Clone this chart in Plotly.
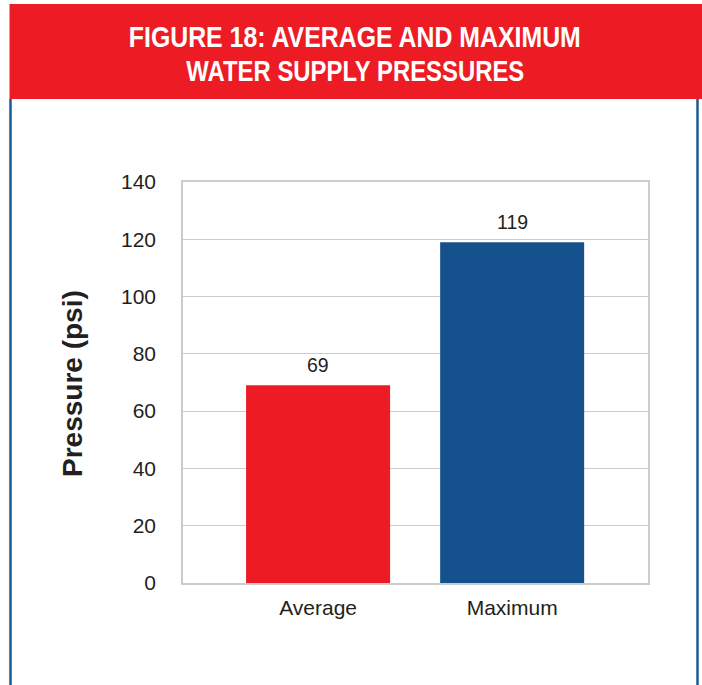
import plotly.graph_objects as go

categories = ["Average", "Maximum"]
values = [69, 119]
bar_colors = ["#ed1c24", "#15518c"]
y_ticks = [0, 20, 40, 60, 80, 100, 120, 140]
title_lines = ["FIGURE 18: AVERAGE AND MAXIMUM", "WATER SUPPLY PRESSURES"]
y_title = "Pressure (psi)"

W, H = 702, 685
L, R, T, B = 183, 54, 182, 102
pw, ph = W - L - R, H - T - B

def px(x):
    return (x - L) / pw

def py(y):
    return (H - B - y) / ph

FONT = "Liberation Sans, Arial, Helvetica, sans-serif"
TXT = "#231f20"

fig = go.Figure()
fig.add_trace(go.Bar(
    x=[0, 1], y=values, marker=dict(color=bar_colors, line=dict(width=0)),
    width=0.742, hoverinfo="skip",
))

shapes = [
    dict(type="rect", xref="paper", yref="paper", x0=px(9.5), x1=px(703), y0=py(99), y1=py(4),
         fillcolor="#ed1c24", line=dict(width=0), layer="above"),
    dict(type="line", xref="paper", yref="paper", x0=px(10.5), x1=px(10.5), y0=py(99), y1=py(690),
         line=dict(color="#1b5a96", width=2.5)),
    dict(type="line", xref="paper", yref="paper", x0=px(697.5), x1=px(697.5), y0=py(99), y1=py(690),
         line=dict(color="#1b5a96", width=2.5)),
]

annotations = [
    dict(text="<b>" + title_lines[0] + "</b>", xref="paper", yref="paper",
         x=px(355), y=py(36.5), xanchor="center", yanchor="middle", showarrow=False,
         font=dict(family=FONT, size=30, color="white")),
    dict(text="<b>" + title_lines[1] + "</b>", xref="paper", yref="paper",
         x=px(355.5), y=py(70.5), xanchor="center", yanchor="middle", showarrow=False,
         font=dict(family=FONT, size=30, color="white")),
    dict(text="<b>" + y_title + "</b>", xref="paper", yref="paper", x=px(72), y=py(384),
         xanchor="center", yanchor="middle", textangle=-90, showarrow=False,
         font=dict(family=FONT, size=28, color=TXT)),
]
for i, v in enumerate(values):
    annotations.append(dict(text=str(v), x=i, y=v, xref="x", yref="y", yanchor="bottom",
                            xanchor="center", yshift=7, showarrow=False,
                            font=dict(family=FONT, size=19.5, color=TXT)))

fig.update_layout(
    width=W, height=H, margin=dict(l=L, r=R, t=T, b=B, autoexpand=False),
    paper_bgcolor="white", plot_bgcolor="white", showlegend=False,
    shapes=shapes, annotations=annotations,
    font=dict(family=FONT, size=21, color=TXT),
)
fig.update_xaxes(range=[-0.696, 1.70], tickvals=[0, 1], ticktext=categories, showgrid=False,
                 showline=True, linecolor="#cccccc", linewidth=1.5, mirror=True,
                 ticks="outside", ticklen=5, tickcolor="rgba(0,0,0,0)",
                 tickfont=dict(size=21, color=TXT), zeroline=False, fixedrange=True)
fig.update_yaxes(range=[0, 140], tickvals=y_ticks, showgrid=True, gridcolor="#cccccc", gridwidth=1.3,
                 showline=True, linecolor="#cccccc", linewidth=1.5, mirror=True, ticks="outside",
                 ticklen=21, tickcolor="rgba(0,0,0,0)", zeroline=False,
                 tickfont=dict(size=21, color=TXT), fixedrange=True)

post = """
document.body.style.margin='0';
document.body.style.overflow='hidden';
var widths = {'FIGURE 18: AVERAGE AND MAXIMUM': 452, 'WATER SUPPLY PRESSURES': 338};
document.querySelectorAll('text.annotation-text').forEach(function(t){
  var w = widths[t.textContent];
  if (w) { t.setAttribute('textLength', w); t.setAttribute('lengthAdjust', 'spacingAndGlyphs'); }
});
"""
fig.write_html("out.html", config={"displayModeBar": False}, post_script=post)
